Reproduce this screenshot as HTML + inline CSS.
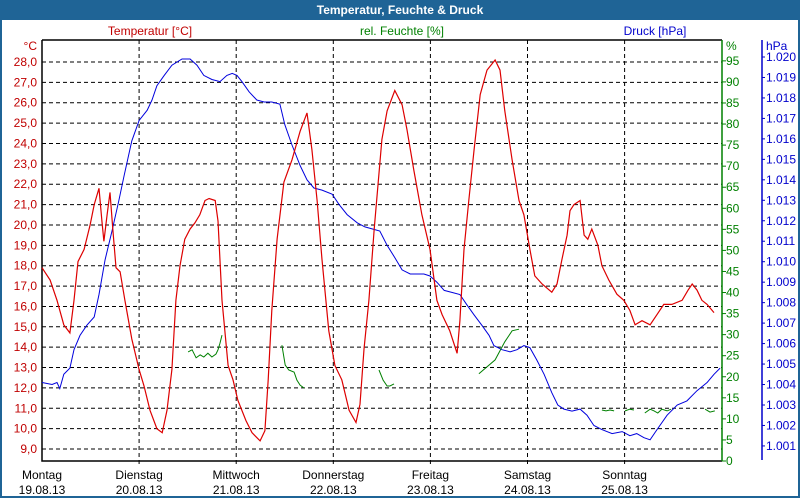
<!DOCTYPE html>
<html><head><meta charset="utf-8">
<style>
html,body{margin:0;padding:0;background:#fff;}
#wrap{position:relative;width:796px;height:496px;border:2px solid #1f6496;border-top:none;overflow:hidden;}
#title{position:absolute;left:0;top:0;width:796px;height:20px;background:#1f6496;color:#fff;font:bold 12px "Liberation Sans",sans-serif;text-align:center;line-height:20px;}
svg{position:absolute;left:0;top:0;}
text{font-family:"Liberation Sans",sans-serif;font-size:12px;}
</style></head><body>
<div id="wrap">
<div id="title">Temperatur, Feuchte &amp; Druck</div>
<svg id="chart" width="796" height="496"></svg>
</div>
<script>
const dayNames=["Montag","Dienstag","Mittwoch","Donnerstag","Freitag","Samstag","Sonntag"];
const dayDates=["19.08.13","20.08.13","21.08.13","22.08.13","23.08.13","24.08.13","25.08.13"];
const tempTicks=[9,10,11,12,13,14,15,16,17,18,19,20,21,22,23,24,25,26,27,28];
const humTicks=[0,5,10,15,20,25,30,35,40,45,50,55,60,65,70,75,80,85,90,95];
const presTicks=[1001,1002,1003,1004,1005,1006,1007,1008,1009,1010,1011,1012,1013,1014,1015,1016,1017,1018,1019,1020];
const tempHours=[0,2,3.7,5.4,6.9,7.9,8.9,10.4,11.9,12.9,14.1,14.8,15.3,16.1,16.8,17.5,18.3,19.3,20.5,22.2,24,25.2,26.7,28.4,29.7,30.9,32.1,33.1,34.1,35.3,36.6,37.8,39,40.3,41.3,42.8,43.5,44.5,46,47.2,48.4,50.4,51.9,53.9,55.1,55.9,56.8,58.1,59.8,61.8,63.8,65.5,66.7,68,69.2,70.9,72.4,74.1,75.9,77.6,78.6,79.6,80.8,82.1,84,85.3,87.2,89,90.2,91.9,93.9,95.9,97.6,98.9,100.8,102.6,103.3,104.3,105.5,106.8,108.3,110,112,113.2,114.4,116.2,117.9,119.1,120.6,121.8,123.6,126,127.3,128.5,129.8,130.5,131.5,133,134,134.9,135.9,137.4,138.4,140.1,142.1,143.8,145.3,146.6,148.3,150.3,152,153.7,155.7,158.2,159.7,160.7,161.9,163.1,164.4,166.1];
const tempValues=[17.9,17.3,16.3,15.1,14.7,16.3,18.2,18.8,20,21,21.8,20.2,19.2,20.5,21.6,19.8,17.9,17.7,16.3,14.4,12.9,12.1,10.9,10,9.8,10.9,12.9,16.3,18,19.3,19.8,20.1,20.5,21.2,21.3,21.2,20.2,16.3,13.1,12.4,11.4,10.4,9.8,9.4,9.9,12.4,15.8,19.3,22.1,23.2,24.6,25.5,23.7,21.2,18.3,14.8,13.1,12.4,10.9,10.3,11.2,13.9,16.3,19.8,24.2,25.6,26.6,25.9,24.7,22.7,20.5,18.8,16.3,15.6,14.8,13.7,15.3,18.8,21.2,23.7,26.4,27.6,28.1,27.6,25.6,23.2,21.2,20.5,18.8,17.5,17.1,16.7,17.1,18.3,19.5,20.7,21,21.2,19.5,19.3,19.8,19,18,17.3,16.6,16.3,15.8,15.1,15.3,15.1,15.6,16.1,16.1,16.3,16.8,17.1,16.8,16.3,16.1,15.7];
const presHours=[0,2.5,3.7,4.4,5.4,6.9,7.9,9.4,11.1,12.9,14.1,15.6,17.3,19,20.3,22.2,24,26,27.2,28.4,30.2,32.1,34.6,36.6,38.3,40,42,44,45.7,47,48.2,49.4,51.2,53.1,54.9,56.8,58.8,60,61.8,63.8,65.5,67.2,69.2,71.7,73.4,75.4,77.9,79.8,81.6,83.5,85.3,87.2,89,91,92.7,94.4,95.9,97.6,99.4,101.3,103.3,105,106.8,108.7,110.5,111.7,113.7,115.7,117.4,119.1,120.6,122.3,124.1,126,127.5,129,131,133,134.7,136.4,138.4,140.9,143.4,145.3,147,148.8,150.3,152,154.5,157,159.4,161.9,164.4,166.1,167.6];
const presValues=[1004.1,1004.0,1004.1,1003.8,1004.5,1004.8,1005.7,1006.4,1006.9,1007.3,1008.4,1010.1,1011.5,1013.0,1014.2,1015.9,1016.9,1017.4,1017.9,1018.6,1019.1,1019.6,1019.9,1019.9,1019.6,1019.1,1018.9,1018.8,1019.1,1019.2,1019.1,1018.8,1018.3,1017.9,1017.8,1017.8,1017.7,1016.7,1015.7,1014.7,1014.0,1013.6,1013.5,1013.3,1012.8,1012.3,1011.9,1011.7,1011.6,1011.5,1010.8,1010.2,1009.6,1009.4,1009.4,1009.4,1009.3,1009.0,1008.6,1008.5,1008.4,1007.9,1007.4,1006.9,1006.4,1005.9,1005.7,1005.6,1005.7,1005.9,1005.8,1005.2,1004.5,1003.6,1003.0,1002.8,1002.7,1002.8,1002.5,1002.0,1001.8,1001.6,1001.7,1001.5,1001.6,1001.4,1001.3,1001.8,1002.5,1003.0,1003.2,1003.7,1004.1,1004.5,1004.8];
const humHours=[36.1,37.1,38.1,39.1,40,41,42,43,43.5,44,44.5,null,59.3,60.1,61,62.3,63,63.8,64.8,65.5,null,83.3,84.3,85.3,86,87,88,null,108,112,114.4,116.2,117.9,119.9,null,138.4,139.4,140.4,141.4,142.1,null,144.1,145.3,146.3,147.3,null,149,150.3,151.3,152.2,153.2,154.5,155.5,156.5,null,163.9,165.1,166.3,167.6];
const humValues=[25.9,26.4,24.5,25.2,24.7,25.6,24.7,25.4,26.4,28,29.9,null,27.5,22.8,21.6,21.1,19.2,18,17.3,null,25.9,21.6,19.2,17.8,17.8,18.3,null,24.9,20.7,24,28.3,30.9,31.3,null,11.4,12.1,11.9,12.1,11.9,null,12.1,11.9,12.3,12.1,null,12.1,11.4,12.3,11.9,11.4,12.3,11.9,12.3,null,11.6,12.3,11.6,11.9];

const NS="http://www.w3.org/2000/svg";
const svg=document.getElementById('chart');
const L=40,R=720,T=40,B=461;
const xH=h=>L+h*(97.1/24);
const yT=v=>62+(28-v)*20.37;
const yH=v=>461-v*4.212;
const yP=v=>57+(1020-v)*20.47;
function el(tag,attrs,parent){const e=document.createElementNS(NS,tag);for(const k in attrs)e.setAttribute(k,attrs[k]);(parent||svg).appendChild(e);return e;}
function txt(s,x,y,anchor,fill){const t=el('text',{x:x,y:y,'text-anchor':anchor,fill:fill});t.textContent=s;return t;}

// grid
tempTicks.forEach(v=>{const y=yT(v);
 const g=el('line',{x1:L,x2:R,y1:y,y2:y,stroke:'#000','stroke-dasharray':'4,3'});
 
 
 const t=txt(v.toFixed(1).replace('.',','),35,y+4,'end','#c00000');
 
 
});
dayNames.forEach((d,i)=>{const x=xH(i*24);
 if(i>0){const g=el('line',{x1:x,x2:x,y1:T,y2:B+5,stroke:'#000','stroke-dasharray':'4,3'});
 
 }
 const a=txt(d,x,479,'middle','#000');
 
 
 const b=txt(dayDates[i],x,494,'middle','#000');
 
 
});
humTicks.forEach(v=>{const y=yH(v);
 const tk=el('line',{x1:R,x2:R+4,y1:y,y2:y,stroke:'#008000'});
 
 
 const t=txt(String(v),724,y+4,'start','#008000');
 
 
});
presTicks.forEach(v=>{const y=yP(v);
 const tk=el('line',{x1:760,x2:763,y1:y,y2:y,stroke:'#0000cc'});
 
 
 const t=txt((v/1000).toFixed(3),764,y+4,'start','#0000cc');
 
 
});
// axes
const ax1=el('path',{d:`M${L},${T} H${R} M${L},${T} V${B} H${R}`,stroke:'#000',fill:'none','stroke-width':1.5});


const ax2=el('line',{x1:R,x2:R,y1:T,y2:B,stroke:'#008000','stroke-width':1.5});


const ax3=el('line',{x1:760,x2:760,y1:T,y2:460,stroke:'#0000cc','stroke-width':1.5});


// titles
[["Temperatur [°C]",148,35,'middle','#c00000','temp-legend'],["rel. Feuchte [%]",400,35,'middle','#008000','humidity-legend'],["Druck [hPa]",653,35,'middle','#0000cc','pressure-legend'],["°C",35,50,'end','#c00000','temp-unit'],["%",724,50,'start','#008000','humidity-unit'],["hPa",764,50,'start','#0000cc','pressure-unit']].forEach(a=>{
 const t=txt(a[0],a[1],a[2],a[3],a[4]);
 
 
});
function pathFrom(hs,vs,yf){let d='',pen=false;for(let i=0;i<hs.length;i++){if(hs[i]===null||vs[i]===null){pen=false;continue;}d+=(pen?'L':'M')+xH(hs[i]).toFixed(1)+','+yf(vs[i]).toFixed(1);pen=true;}return d;}
const pp=el('path',{d:pathFrom(presHours,presValues,yP),stroke:'#0000dd',fill:'none','stroke-width':1});


const hp=el('path',{d:pathFrom(humHours,humValues,yH),stroke:'#008000',fill:'none','stroke-width':1});


const tp=el('path',{d:pathFrom(tempHours,tempValues,yT),stroke:'#dd0000',fill:'none','stroke-width':1.2});


</script>
</body></html>
